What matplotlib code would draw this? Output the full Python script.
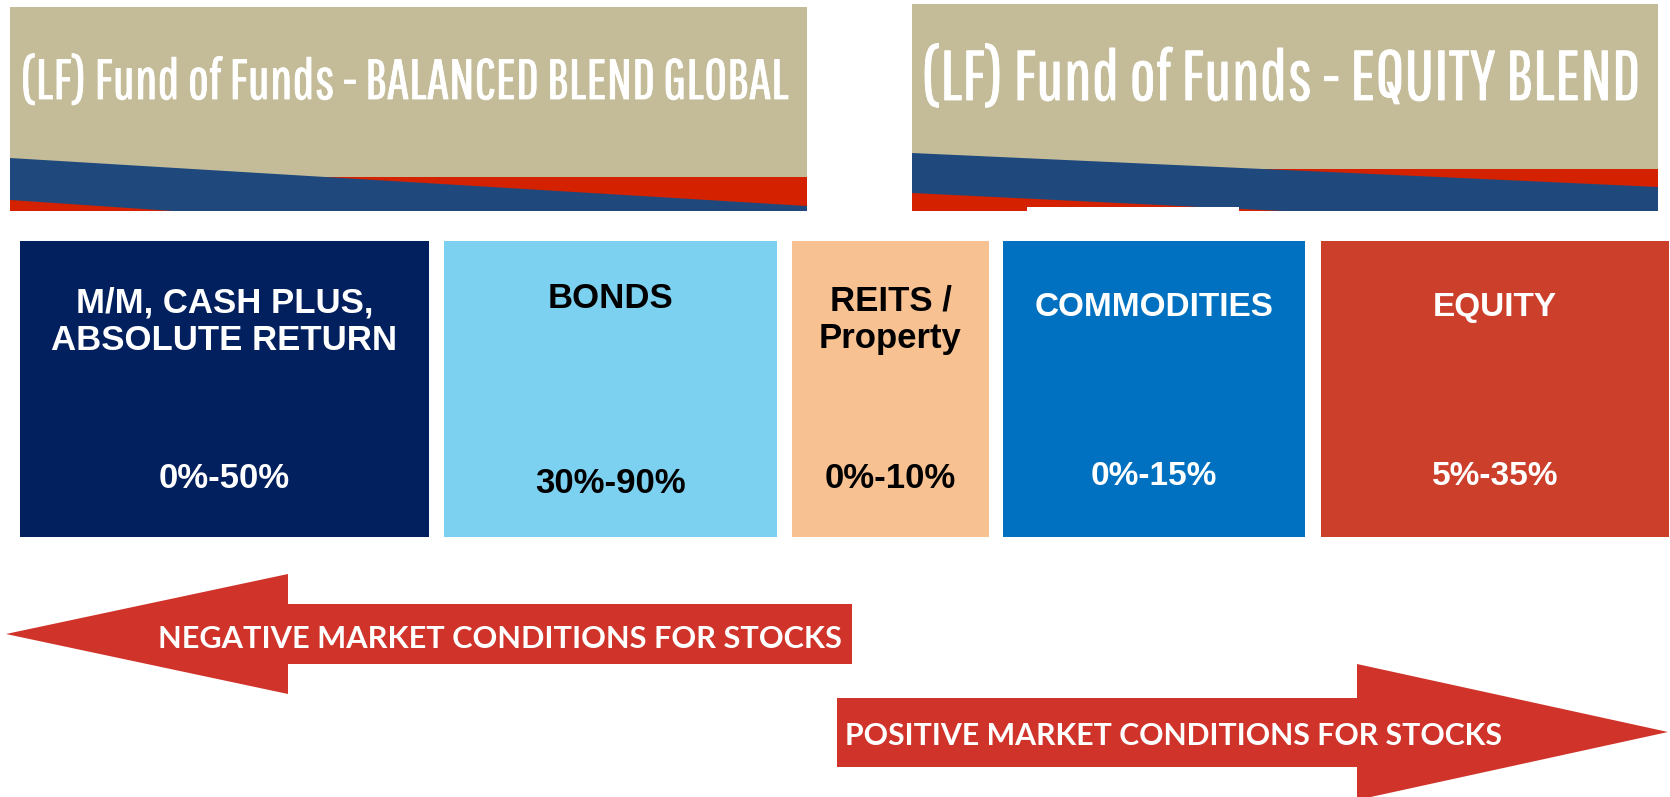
import matplotlib
matplotlib.use("Agg")
import matplotlib.pyplot as plt
import matplotlib.patheffects as pe
from matplotlib import font_manager as fm
from matplotlib.patches import Rectangle, Polygon

# --- data ---
fund_titles = ["(LF) Fund of Funds - BALANCED BLEND GLOBAL",
               "(LF) Fund of Funds - EQUITY BLEND"]
asset_classes = [["M/M, CASH PLUS,", "ABSOLUTE RETURN"],
                 ["BONDS"],
                 ["REITS /", "Property"],
                 ["COMMODITIES"],
                 ["EQUITY"]]
alloc_ranges = ["0%-50%", "30%-90%", "0%-10%", "0%-15%", "5%-35%"]
arrow_labels = ["NEGATIVE MARKET CONDITIONS FOR STOCKS",
                "POSITIVE MARKET CONDITIONS FOR STOCKS"]

# --- layout / style ---
box_left = [20, 444, 792, 1003, 1321]
box_right = [429, 777, 989, 1305, 1669]
box_top, box_bottom = 241, 537
box_colors = ["#021f5e", "#7dd1f0", "#f8c191", "#0070c0", "#cc402b"]
text_colors = ["white", "black", "black", "white", "white"]
name_base = [312, 308, 310, 316, 316]
range_base = [488, 493, 488, 485, 485]
box_fs = [25, 25, 25, 24, 24]

TAN, BLUE, RED = "#c4bc98", "#1f497d", "#d42200"
ARROW_RED = "#d0332a"

names = {f.name for f in fm.fontManager.ttflist}


def first_font(cands, default="DejaVu Sans"):
    for c in cands:
        if c in names:
            return c
    return default


title_family = first_font(["Pathway Gothic One", "Sofia Sans Extra Condensed", "Oswald"])
arrow_family = first_font(["Lato"])

W, H = 1670, 797
fig = plt.figure(figsize=(W / 100, H / 100), dpi=100)
ax = fig.add_axes([0, 0, 1, 1])
ax.set_xlim(0, W)
ax.set_ylim(H, 0)
ax.axis("off")

renderer = fig.canvas.get_renderer()


def fit_width(t, width):
    # scale the font so that the text is as wide as in the original
    for _ in range(3):
        w = t.get_window_extent(renderer).width
        t.set_fontsize(t.get_fontsize() * width / w)


def banner(x0, x1, top, bottom, red_y, blue_top, blue_bot, title, tx, tw, base):
    ax.add_patch(Rectangle((x0, top), x1 - x0, bottom - top, color=TAN, lw=0))
    ax.add_patch(Rectangle((x0, red_y), x1 - x0, bottom - red_y, color=RED, lw=0))
    pts = [(x0, blue_top[0]), (x1, blue_top[1]), (x1, bottom),
           (blue_bot[1], bottom), (x0, blue_bot[0])]
    ax.add_patch(Polygon(pts, closed=True, color=BLUE, lw=0))
    t = ax.text(tx, base, title, color="white", ha="left", va="baseline",
                fontsize=40, family=title_family)
    fit_width(t, tw - 1)
    # the original lettering is a little heavier
    t.set_path_effects([pe.withStroke(linewidth=0.6, foreground="white")])


banner(10, 807, 7, 211, 177, (158, 206), (200, 173), fund_titles[0], 21, 767, 99)
banner(912, 1658, 4, 211, 169, (153, 187), (193, 1283), fund_titles[1], 922, 718, 100)
ax.add_patch(Rectangle((1027, 207), 212, 5, color="white", lw=0))

# asset class boxes
for i in range(len(alloc_ranges)):
    l, r = box_left[i], box_right[i]
    ax.add_patch(Rectangle((l, box_top), r - l, box_bottom - box_top,
                           color=box_colors[i], lw=0))
    cx = (l + r) / 2
    for k, line in enumerate(asset_classes[i]):
        ax.text(cx, name_base[i] + 38 * k, line, color=text_colors[i],
                fontsize=box_fs[i], fontweight="bold", ha="center", va="baseline",
                family="Liberation Sans")
    ax.text(cx, range_base[i], alloc_ranges[i], color=text_colors[i],
            fontsize=box_fs[i], fontweight="bold", ha="center", va="baseline",
            family="Liberation Sans")

# arrows
left_arrow = [(6, 634), (288, 574), (288, 604), (852, 604), (852, 664),
              (288, 664), (288, 694)]
right_arrow = [(837, 698), (1357, 698), (1357, 664), (1668, 732), (1357, 800),
               (1357, 767), (837, 767)]
ax.add_patch(Polygon(left_arrow, closed=True, color=ARROW_RED, lw=0))
ax.add_patch(Polygon(right_arrow, closed=True, color=ARROW_RED, lw=0))

t = ax.text(158, 648, arrow_labels[0], color="white", fontsize=20, fontweight="bold",
            ha="left", va="baseline", family=arrow_family)
fit_width(t, 683)
t = ax.text(845, 745, arrow_labels[1], color="white", fontsize=20, fontweight="bold",
            ha="left", va="baseline", family=arrow_family)
fit_width(t, 661)

fig.savefig("out.png", dpi=100)
